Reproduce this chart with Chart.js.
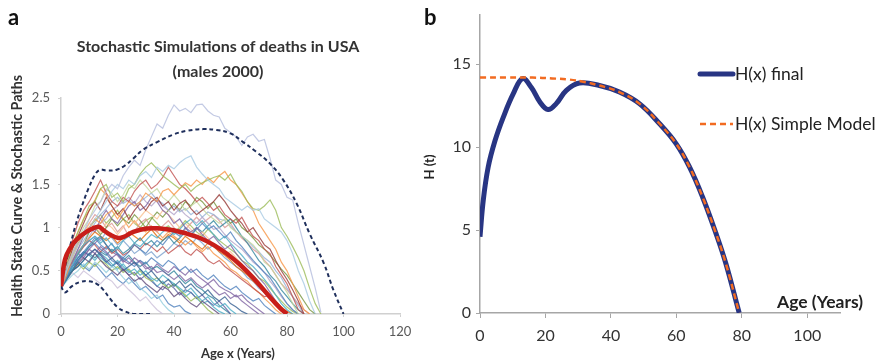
<!DOCTYPE html>
<html>
<head>
<meta charset="utf-8">
<script src="https://cdn.jsdelivr.net/npm/chart.js@4/dist/chart.umd.min.js"></script>
<style>
  body { margin: 0; background: #fff; }
  #wrap { position: relative; width: 880px; height: 363px; overflow: hidden; }
  canvas { position: absolute; top: 0; }
  #chartA { left: 0; }
  #chartB { left: 415px; }
  .panel { position: absolute; top: 3px; font: bold 22px Lato, "Liberation Sans", sans-serif; color: #111; }
</style>
</head>
<body>
<div id="wrap">
  <canvas id="chartA" width="440" height="363"></canvas>
  <canvas id="chartB" width="465" height="363"></canvas>
  <div class="panel" style="left:8px">a</div>
  <div class="panel" style="left:424px">b</div>
</div>
<script>
// ---------- panel a: stochastic paths (values every 2 years) ----------
const pathAges = [0,2,4,6,8,10,12,14,16,18,20,22,24,26,28,30,32,34,36,38,40,42,44,46,48,50,
  52,54,56,58,60,62,64,66,68,70,72,74,76,78,80,82,84,86,88,90,92,94,96,98,100];

const path01 = [0.30,0.55,0.70,0.85,0.95,1.10,1.20,1.30,1.42,1.50,1.45,1.60,1.70,1.78,1.72,1.90,2.05,2.20,2.15,2.30,2.42,2.35,2.38,2.33,2.42,2.43,2.35,2.30,2.28,2.15,2.10,2.05,1.95,2.05,2.08,2.00,2.02,1.80,1.55,1.50,1.35,1.32,1.05,0.80,0.55,0.30,0.02];
const path02 = [0.30,0.50,0.65,0.80,0.90,1.00,1.10,1.20,1.30,1.42,1.50,1.45,1.55,1.50,1.60,1.65,1.58,1.70,1.65,1.72,1.68,1.75,1.80,1.83,1.70,1.62,1.55,1.50,1.45,1.35,1.30,1.25,1.20,1.25,1.20,1.22,1.10,1.05,1.00,0.95,0.85,0.70,0.50,0.35,0.15,0];
const path03 = [0.30,0.55,0.80,0.95,1.10,1.25,1.30,1.45,1.50,1.35,1.40,1.30,1.45,1.50,1.62,1.70,1.75,1.68,1.60,1.55,1.50,1.45,1.50,1.42,1.48,1.52,1.55,1.58,1.60,1.55,1.62,1.50,1.42,1.30,1.22,1.20,1.25,1.32,1.20,1.00,0.90,0.78,0.65,0.50,0.30,0.12,0];
const path04 = [0.30,0.60,0.85,1.05,1.20,1.30,1.42,1.55,1.40,1.30,1.25,1.35,1.30,1.42,1.50,1.55,1.45,1.50,1.58,1.70,1.60,1.50,1.45,1.38,1.30,1.35,1.28,1.20,1.25,1.15,1.10,1.05,1.12,1.00,0.90,0.85,0.75,0.70,0.55,0.45,0.35,0.20,0.05,0];
const path05 = [0.30,0.45,0.65,0.80,0.95,1.00,1.10,1.05,1.15,1.20,1.10,1.20,1.30,1.25,1.30,1.40,1.35,1.30,1.42,1.45,1.38,1.45,1.52,1.48,1.55,1.50,1.58,1.52,1.60,1.65,1.55,1.50,1.40,1.30,1.20,1.05,0.95,0.85,0.75,0.60,0.50,0.35,0.20,0.05,0];
const path06 = [0.30,0.55,0.75,0.90,1.05,1.20,1.30,1.20,1.35,1.25,1.15,1.22,1.10,1.20,1.28,1.20,1.30,1.35,1.25,1.30,1.20,1.28,1.32,1.22,1.15,1.20,1.25,1.30,1.38,1.30,1.20,1.12,1.05,0.95,1.00,0.90,0.80,0.75,0.62,0.50,0.40,0.28,0.15,0];
const path07 = [0.30,0.50,0.70,0.85,1.00,1.10,1.25,1.30,1.45,1.40,1.30,1.38,1.50,1.45,1.55,1.48,1.40,1.45,1.35,1.30,1.38,1.30,1.20,1.25,1.30,1.22,1.15,1.10,1.05,1.10,1.00,0.95,0.90,0.85,0.80,0.72,0.60,0.55,0.45,0.35,0.25,0.12,0];
const path08 = [0.30,0.50,0.60,0.75,0.90,1.00,0.95,1.10,1.20,1.10,1.05,1.15,1.25,1.30,1.20,1.25,1.35,1.30,1.20,1.15,1.05,1.10,1.00,0.95,1.00,0.92,0.85,0.90,0.82,0.75,0.80,0.70,0.62,0.55,0.50,0.42,0.35,0.25,0.15,0.05,0];
const path09 = [0.30,0.45,0.55,0.70,0.80,0.85,0.90,0.82,0.88,0.80,0.75,0.85,0.90,0.82,0.78,0.85,0.92,0.88,0.95,1.00,0.92,0.98,1.05,1.10,1.02,1.08,1.00,0.92,0.85,0.90,0.82,0.75,0.68,0.60,0.55,0.48,0.40,0.32,0.22,0.12,0.05,0];
const path10 = [0.30,0.42,0.55,0.65,0.72,0.80,0.88,0.80,0.75,0.82,0.70,0.65,0.72,0.80,0.75,0.70,0.78,0.85,0.80,0.88,0.95,0.90,1.00,0.92,0.98,1.05,0.98,1.02,0.95,0.88,0.95,0.85,0.78,0.70,0.62,0.55,0.48,0.42,0.32,0.22,0.12,0.05,0];
const path11 = [0.30,0.50,0.65,0.80,0.90,1.05,1.00,0.95,1.05,1.00,0.92,1.00,1.10,1.05,1.12,1.20,1.15,1.10,1.20,1.15,1.08,1.00,1.05,0.98,0.90,0.95,0.88,0.80,0.75,0.70,0.72,0.65,0.58,0.50,0.45,0.38,0.30,0.22,0.15,0.05,0];
const path12 = [0.30,0.45,0.60,0.72,0.80,0.90,1.00,1.05,1.10,1.20,1.25,1.30,1.35,1.28,1.38,1.30,1.25,1.32,1.25,1.20,1.15,1.22,1.15,1.10,1.05,1.12,1.05,0.98,1.00,0.92,0.85,0.80,0.75,0.68,0.60,0.55,0.48,0.38,0.30,0.20,0.12,0.05,0];
const path13 = [0.30,0.40,0.50,0.62,0.70,0.78,0.85,0.90,0.80,0.72,0.78,0.70,0.75,0.82,0.88,0.80,0.85,0.78,0.85,0.90,0.82,0.88,0.95,0.90,1.00,0.95,1.02,1.08,1.00,1.05,1.10,1.00,0.90,0.82,0.72,0.62,0.55,0.45,0.38,0.28,0.20,0.12,0.05,0];
const path14 = [0.30,0.45,0.60,0.70,0.80,0.95,1.00,0.92,1.00,1.10,1.02,1.10,1.05,1.15,1.08,1.00,1.10,1.18,1.12,1.20,1.28,1.20,1.30,1.25,1.35,1.30,1.22,1.30,1.20,1.12,1.05,1.10,1.00,0.95,0.88,0.80,0.75,0.68,0.60,0.52,0.45,0.35,0.25,0.15,0.05,0];
const path15 = [0.30,0.50,0.62,0.75,0.85,0.95,1.05,1.15,1.22,1.30,1.35,1.28,1.32,1.25,1.30,1.35,1.40,1.32,1.28,1.20,1.25,1.18,1.22,1.15,1.20,1.12,1.18,1.15,1.10,1.08,1.02,0.95,0.90,0.85,0.78,0.72,0.65,0.60,0.50,0.42,0.30,0.20,0.10,0];
const path16 = [0.30,0.50,0.70,0.85,0.95,1.05,1.15,1.10,1.00,1.05,0.95,1.02,0.90,0.95,1.05,1.10,1.00,0.95,1.02,1.08,1.00,0.92,0.98,1.05,1.12,1.05,1.10,1.15,1.08,1.00,1.05,0.95,0.88,0.82,0.75,0.70,0.62,0.55,0.45,0.35,0.28,0.20,0.12,0.05,0];
const path17 = [0.30,0.42,0.50,0.58,0.65,0.60,0.70,0.62,0.55,0.50,0.45,0.52,0.45,0.38,0.42,0.35,0.30,0.25,0.32,0.28,0.20,0.25,0.18,0.12,0.08,0.15,0.10,0.05,0];
const path18 = [0.30,0.40,0.50,0.55,0.62,0.70,0.75,0.68,0.60,0.65,0.58,0.50,0.55,0.60,0.52,0.45,0.50,0.42,0.35,0.40,0.32,0.38,0.30,0.35,0.28,0.22,0.28,0.20,0.15,0.20,0.12,0.08,0.03,0];
const path19 = [0.30,0.38,0.45,0.50,0.58,0.52,0.60,0.55,0.48,0.55,0.50,0.42,0.35,0.40,0.30,0.25,0.18,0.22,0.12,0.05,0];
const path20 = [0.30,0.45,0.55,0.60,0.68,0.75,0.70,0.78,0.72,0.65,0.70,0.62,0.58,0.65,0.60,0.52,0.55,0.48,0.50,0.45,0.40,0.45,0.38,0.42,0.35,0.30,0.35,0.28,0.22,0.25,0.18,0.22,0.15,0.10,0.05,0];
const path21 = [0.30,0.40,0.52,0.60,0.55,0.62,0.70,0.65,0.60,0.55,0.62,0.55,0.48,0.52,0.45,0.50,0.42,0.38,0.45,0.40,0.35,0.30,0.25,0.30,0.22,0.15,0.20,0.12,0.08,0.12,0.05,0];
const path22 = [0.30,0.42,0.55,0.62,0.70,0.78,0.82,0.75,0.70,0.62,0.58,0.65,0.60,0.55,0.62,0.58,0.65,0.60,0.55,0.62,0.58,0.50,0.55,0.48,0.52,0.45,0.40,0.45,0.38,0.32,0.28,0.32,0.25,0.20,0.15,0.18,0.10,0.05,0];
const path23 = [0.30,0.50,0.62,0.72,0.80,0.88,0.95,0.90,0.85,0.90,0.82,0.88,0.95,0.90,0.85,0.92,0.98,0.90,0.85,0.92,0.88,0.82,0.90,0.85,0.80,0.75,0.82,0.78,0.72,0.68,0.62,0.55,0.50,0.45,0.38,0.32,0.25,0.20,0.15,0.08,0.03,0];
const path24 = [0.30,0.40,0.48,0.42,0.50,0.45,0.40,0.35,0.42,0.38,0.30,0.35,0.28,0.22,0.15,0.20,0.12,0.05,0];
const path25 = [0.30,0.40,0.50,0.58,0.52,0.60,0.55,0.62,0.58,0.50,0.55,0.48,0.52,0.45,0.50,0.42,0.38,0.42,0.35,0.30,0.35,0.28,0.22,0.15,0.20,0.12,0.05,0];
const path26 = [0.30,0.45,0.55,0.65,0.72,0.68,0.75,0.70,0.62,0.55,0.60,0.52,0.45,0.48,0.40,0.45,0.38,0.32,0.28,0.35,0.30,0.22,0.28,0.25,0.18,0.22,0.15,0.10,0.15,0.08,0];
const path27 = [0.30,0.50,0.60,0.70,0.78,0.85,0.80,0.72,0.78,0.70,0.75,0.68,0.72,0.80,0.75,0.82,0.78,0.72,0.78,0.70,0.75,0.80,0.72,0.68,0.75,0.70,0.62,0.58,0.62,0.55,0.50,0.45,0.40,0.35,0.30,0.25,0.20,0.22,0.15,0.08,0];
const path28 = [0.30,0.42,0.50,0.55,0.62,0.70,0.65,0.72,0.68,0.75,0.70,0.62,0.68,0.60,0.55,0.60,0.52,0.55,0.50,0.45,0.50,0.42,0.35,0.40,0.32,0.28,0.22,0.18,0.10,0.05,0];
const path29 = [0.30,0.55,0.75,0.95,1.10,1.20,1.32,1.45,1.38,1.25,1.15,1.10,1.00,1.08,1.00,0.95,1.02,0.95,0.88,0.95,0.90,0.85,0.80,0.85,0.78,0.72,0.78,0.70,0.65,0.60,0.52,0.48,0.42,0.38,0.30,0.25,0.18,0.12,0.05,0];
const path30 = [0.30,0.45,0.58,0.68,0.78,0.85,0.90,0.85,0.95,0.88,0.80,0.85,0.78,0.70,0.75,0.68,0.72,0.65,0.70,0.75,0.82,0.78,0.85,0.80,0.88,0.82,0.75,0.80,0.72,0.65,0.60,0.55,0.50,0.42,0.38,0.30,0.25,0.18,0.10,0.05,0];
const path31 = [0.30,0.45,0.52,0.60,0.55,0.50,0.58,0.50,0.42,0.48,0.40,0.35,0.42,0.35,0.28,0.32,0.25,0.18,0.22,0.12,0.08,0.10,0.03,0];
const path32 = [0.30,0.48,0.62,0.70,0.65,0.75,0.82,0.88,0.80,0.72,0.68,0.60,0.65,0.58,0.62,0.55,0.50,0.58,0.52,0.48,0.55,0.50,0.45,0.52,0.45,0.40,0.35,0.40,0.32,0.28,0.25,0.20,0.22,0.15,0.10,0.05,0];
const path33 = [0.30,0.50,0.68,0.82,0.90,1.00,1.08,1.15,1.05,1.12,1.20,1.10,1.15,1.05,1.00,1.08,1.12,1.05,0.98,1.02,0.95,1.00,1.08,1.02,0.95,0.90,0.98,0.92,0.85,0.80,0.75,0.70,0.62,0.58,0.50,0.42,0.38,0.30,0.22,0.15,0.08,0.03,0];
const path34 = [0.30,0.42,0.58,0.65,0.72,0.68,0.62,0.70,0.65,0.58,0.52,0.58,0.50,0.45,0.52,0.45,0.40,0.32,0.38,0.30,0.35,0.28,0.20,0.25,0.18,0.12,0.15,0.08,0.03,0];

const paths = [path01,path02,path03,path04,path05,path06,path07,path08,path09,path10,
  path11,path12,path13,path14,path15,path16,path17,path18,path19,path20,
  path21,path22,path23,path24,path25,path26,path27,path28,path29,path30,
  path31,path32,path33,path34];
const pathColors = ['#b4bddd','#a6c9e2','#9bbb59','#c0504d','#f79646','#953735','#c3d69b','#8064a2','#4bacc6','#4f81bd',
  '#fac090','#b2a2c7','#31859c','#77933c','#95b3d7','#d99694','#604a7b','#376092','#93cddd','#8064a2',
  '#4bacc6','#4f81bd','#e46c0a','#ccc1da','#9bbb59','#5b5fa0','#c0504d','#31859c','#f79646','#7ba0cd',
  '#4f81bd','#8064a2','#9bbb59','#4bacc6'];

// health state curve and upper / lower bounds
const healthAges = [0,1.4,3.2,5.5,9,13.2,15,17.3,20.3,22,25.6,30.3,35,39.8,44.5,49.2,54,58.6,63.4,68,72.8,77.5,80];
const healthVals = [0.32,0.63,0.76,0.86,0.95,1.01,0.97,0.92,0.88,0.89,0.95,0.99,0.99,0.97,0.93,0.88,0.80,0.70,0.57,0.42,0.24,0.07,0];
const upperAges = [0,1.4,3.2,5,7.3,9.7,12,13.8,16.2,19.7,22.7,25.6,29,34,40,44.5,50.4,55,60,64.5,69,74,78.7,83.4,88,93,96.4,100];
const upperVals = [0.32,0.55,0.78,1.01,1.24,1.45,1.61,1.67,1.66,1.67,1.72,1.80,1.90,1.99,2.08,2.12,2.14,2.13,2.09,1.99,1.88,1.74,1.55,1.28,0.93,0.59,0.28,0];
const lowerAges = [0,1.4,3.8,6.7,9.7,12.6,15,17.3,20.3,22.7,25.6,31.5];
const lowerVals = [0.32,0.25,0.32,0.37,0.38,0.35,0.28,0.18,0.07,0.03,0,0];

const xTicksA = [0,20,40,60,80,100,120];
const yTicksA = [0,0.5,1,1.5,2,2.5];

// ---------- panel b ----------
const finalAges = [0,1,2.5,4.6,7.1,10.1,13,15.7,18.3,20.8,23.3,26.4,30.4,36.5,42.6,48.7,54.8,59.9,64,68,72.1,75.1,79.2];
const finalVals = [4.6,6.8,8.8,10.4,11.8,13.2,14.14,13.6,12.73,12.27,12.63,13.43,13.87,13.72,13.33,12.63,11.43,10.22,8.81,7.0,4.8,3.0,0];
const simpleAges = [0,8,16,22,27.4,31.5,36.5,42.6,48.7,54.8,59.9,64,68,72.1,75.1,79.2];
const simpleVals = [14.2,14.2,14.2,14.15,14.08,13.95,13.72,13.33,12.63,11.43,10.22,8.81,7.0,4.8,3.0,0];
const xTicksB = [0,20,40,60,80,100];
const yTicksB = [0,5,10,15];

const xy = (xs, ys) => ys.map((v, i) => ({ x: xs[i], y: v }));
const FONT = "Lato, 'Open Sans', sans-serif";

// texts drawn at fixed spots on the canvas
const labelsPlugin = {
  id: "labels",
  afterDraw(chart, args, opts) {
    const ctx = chart.ctx;
    (opts.items || []).forEach((t) => {
      ctx.save();
      ctx.font = t.font;
      ctx.fillStyle = t.color || "#222";
      ctx.textAlign = t.align || "center";
      ctx.textBaseline = "middle";
      ctx.translate(t.x, t.y);
      if (t.rotate) ctx.rotate(t.rotate);
      ctx.fillText(t.text, 0, 0);
      ctx.restore();
    });
  },
};

// legend inside panel b
const legendB = {
  id: "legendB",
  afterDraw(chart) {
    const ctx = chart.ctx;
    const rows = [74, 124];
    chart.data.datasets.forEach((ds, i) => {
      const y = rows[i];
      ctx.save();
      ctx.strokeStyle = ds.borderColor;
      ctx.lineWidth = ds.borderWidth;
      ctx.lineCap = ds.borderDash ? "butt" : "round";
      ctx.setLineDash(ds.borderDash || []);
      ctx.beginPath();
      ctx.moveTo(285, y);
      ctx.lineTo(318, y);
      ctx.stroke();
      ctx.setLineDash([]);
      ctx.font = "17.5px " + FONT;
      ctx.fillStyle = "#222";
      ctx.textBaseline = "middle";
      ctx.fillText(ds.label, 320, y);
      ctx.restore();
    });
  },
};

const pick = (list) => (scale) => {
  scale.ticks = list.map((v) => ({ value: v }));
};

const pathSets = paths.map((p, i) => ({
  data: xy(pathAges, p),
  borderColor: pathColors[i] + "cc",
  borderWidth: 1.2,
  pointRadius: 0,
  tension: 0,
  order: 3,
}));

new Chart(document.getElementById("chartA"), {
  type: "line",
  data: {
    datasets: [
      { data: xy(healthAges, healthVals), borderColor: "#c81e1a", borderWidth: 4.5, pointRadius: 0,
        tension: 0.4, order: 0 },
      { data: xy(upperAges, upperVals), borderColor: "#1f2f5c", borderWidth: 2, borderDash: [4, 3],
        pointRadius: 0, tension: 0.4, order: 1 },
      { data: xy(lowerAges, lowerVals), borderColor: "#1f2f5c", borderWidth: 2, borderDash: [4, 3],
        pointRadius: 0, tension: 0.4, order: 1 },
      ...pathSets,
    ],
  },
  options: {
    responsive: false,
    animation: false,
    layout: { padding: { left: 0, right: 40, top: 98, bottom: 0 } },
    plugins: {
      legend: { display: false },
      tooltip: { enabled: false },
      labels: {
        items: [
          { text: "Stochastic Simulations of deaths in USA", x: 218, y: 47, font: "bold 16px " + FONT, color: "#333" },
          { text: "(males 2000)", x: 218, y: 72, font: "bold 16px " + FONT, color: "#333" },
          { text: "Health State Curve & Stochastic Paths", x: 17, y: 196, rotate: -Math.PI / 2,
            font: "bold 14.3px " + FONT, color: "#333" },
          { text: "Age x (Years)", x: 238, y: 354, font: "bold 13px " + FONT, color: "#333" },
        ],
      },
    },
    scales: {
      x: {
        type: "linear", min: 0, max: 120,
        afterBuildTicks: pick(xTicksA),
        afterFit: (s) => { s.height = 49; },
        ticks: { font: { family: FONT, size: 13 }, color: "#595959", padding: 7, callback: (v) => String(v) },
        grid: { drawOnChartArea: false, tickLength: 3, color: "#d0d0d0" },
        border: { color: "#d0d0d0", width: 1.5 },
      },
      y: {
        min: 0, max: 2.5,
        afterBuildTicks: pick(yTicksA),
        afterFit: (s) => { s.width = 61; },
        ticks: { font: { family: FONT, size: 13 }, color: "#595959", padding: 8, callback: (v) => String(v) },
        grid: { drawOnChartArea: false, tickLength: 3, color: "#d0d0d0" },
        border: { color: "#d0d0d0", width: 1.5 },
      },
    },
  },
  plugins: [labelsPlugin],
});

new Chart(document.getElementById("chartB"), {
  type: "line",
  data: {
    datasets: [
      { label: "H(x) final", data: xy(finalAges, finalVals), borderColor: "#283583", borderWidth: 5,
        pointRadius: 0, tension: 0.4, order: 1 },
      { label: "H(x) Simple Model", data: xy(simpleAges, simpleVals), borderColor: "#f26b21", borderWidth: 2.5,
        borderDash: [6, 4], pointRadius: 0, tension: 0.4, order: 0 },
    ],
  },
  options: {
    responsive: false,
    animation: false,
    layout: { padding: { left: 0, right: 40, top: 14, bottom: 0 } },
    plugins: {
      legend: { display: false },
      tooltip: { enabled: false },
      labels: {
        items: [
          { text: "H (t)", x: 15, y: 167, rotate: -Math.PI / 2, font: "bold 13px " + FONT, color: "#222" },
          { text: "Age (Years)", x: 405, y: 302, font: "bold 17.5px " + FONT, color: "#222" },
        ],
      },
    },
    scales: {
      x: {
        type: "linear", min: 0, max: 110,
        afterBuildTicks: pick(xTicksB),
        afterFit: (s) => { s.height = 50; },
        ticks: { font: { family: FONT, size: 16 }, color: "#333", padding: 8 },
        grid: { drawOnChartArea: false, tickLength: 5, color: "#a6a6a6" },
        border: { color: "#a6a6a6", width: 1.5 },
      },
      y: {
        min: 0, max: 18,
        afterBuildTicks: pick(yTicksB),
        afterFit: (s) => { s.width = 65; },
        ticks: { font: { family: FONT, size: 16 }, color: "#333", padding: 5 },
        grid: { drawOnChartArea: false, tickLength: 4, color: "#a6a6a6" },
        border: { color: "#a6a6a6", width: 1.5 },
      },
    },
  },
  plugins: [labelsPlugin, legendB],
});
</script>
</body>
</html>
